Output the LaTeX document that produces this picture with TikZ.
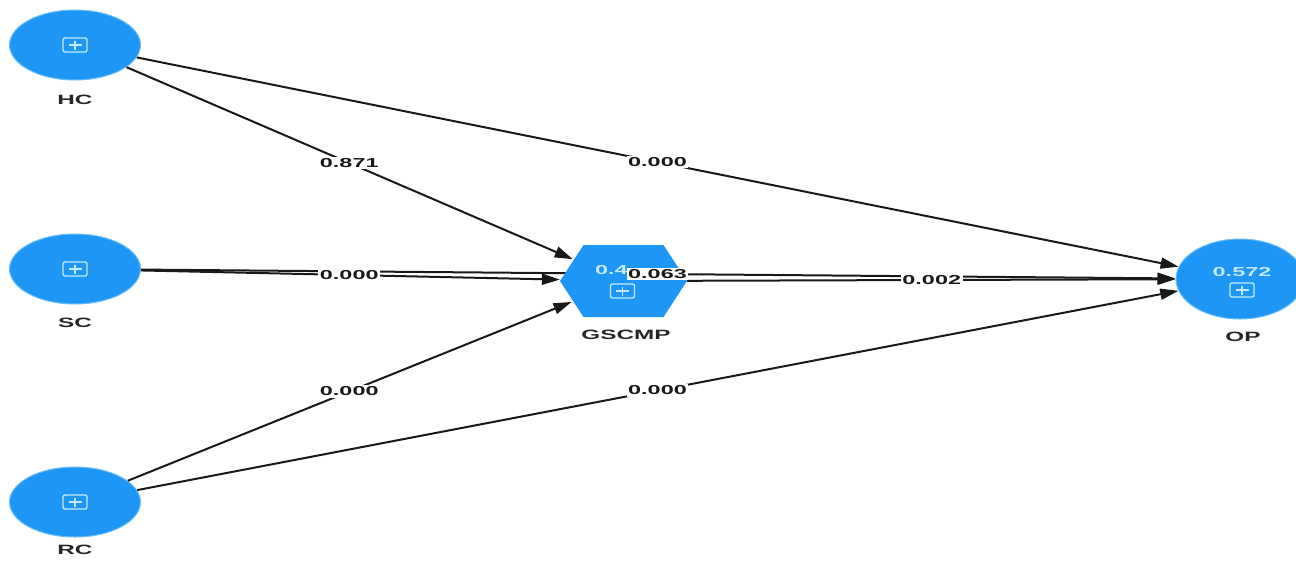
\documentclass[tikz,border=0pt]{standalone}
\usepackage{fontspec}
\setmainfont{Liberation Sans}
\newfontfamily\widefont[FakeStretch=1.8]{Liberation Sans}
\usetikzlibrary{shapes.geometric,arrows.meta,calc}
\pgfdeclarelayer{background}
\pgfsetlayers{background,main}
\definecolor{nodeblue}{RGB}{30,150,245}
\definecolor{rimblue}{RGB}{110,190,250}
\definecolor{iconc}{RGB}{195,232,255}
\begin{document}
\begin{tikzpicture}[x=1pt,y=-1pt,
  lv/.style={shape=ellipse, fill=nodeblue, draw=rimblue, line width=1pt, minimum width=131pt, minimum height=70pt, inner sep=0pt},
  nm/.style={font=\widefont\bfseries\fontsize{13.5}{15}\selectfont, text=black!85, inner sep=0pt},
  el/.style={font=\widefont\bfseries\fontsize{13}{15}\selectfont, text=black!90, fill=white, inner sep=1.5pt},
  val/.style={font=\widefont\bfseries\fontsize{13}{15}\selectfont, text=iconc, inner sep=0pt},
  conn/.style={line width=2pt, draw=black!90, -{Triangle[length=18pt,width=11pt]}},
  plusicon/.pic={
    \draw[iconc, line width=1.4pt, rounded corners=2pt] (-12,-7) rectangle (12,7);
    \draw[iconc, line width=1.4pt] (-6.5,0) -- (6.5,0) (0,-4.5) -- (0,4.5);
  }
]
\useasboundingbox (0,0) rectangle (1296,563);

% latent variables
\node[lv] (HC) at (75,45) {};
\node[lv] (SC) at (75,269) {};
\node[lv] (RC) at (75,502) {};
\node[lv, minimum width=128pt, minimum height=80pt] (OP) at (1240,279) {};
\node[shape=ellipse, minimum width=127pt, minimum height=72pt, inner sep=0pt] (GS) at (623.5,281) {};
\fill[nodeblue] ($(GS.center)+(-63.5,0)$) -- ($(GS.center)+(-40,-36)$) -- ($(GS.center)+(40,-36)$)
  -- ($(GS.center)+(63.5,0)$) -- ($(GS.center)+(40,36)$) -- ($(GS.center)+(-40,36)$) -- cycle;

% icons and values
\pic at (HC) {plusicon};
\pic at (SC) {plusicon};
\pic at (RC) {plusicon};
\pic at ($(GS.center)+(-1,10)$) {plusicon};
\pic at ($(OP.center)+(2,11)$) {plusicon};
\node[val, anchor=west] (GSv) at (595,270) {0.4};
\node[val] (OPv) at (1242,272) {0.572};

% names
\node[nm] (HCl) at (75,100) {HC};
\node[nm] (SCl) at (75,323) {SC};
\node[nm] (RCl) at (75,550) {RC};
\node[nm] (GSl) at (626,335) {GSCMP};
\node[nm] (OPl) at (1243,337) {OP};

% connectors
\begin{pgfonlayer}{background}
\draw[conn] (SC) -- (OP);
\end{pgfonlayer}
\draw[conn] (HC) -- (GS);
\draw[conn] (HC) -- (OP);
\draw[conn] (SC) -- (GS);
\draw[conn] (RC) -- (GS);
\draw[conn] (RC) -- (OP);
\draw[conn] (GS) -- (OP);

% connector labels
\path (HC.center) -- (GS.center) node[el, midway] {0.871};
\path (HC.center) -- (OP.center) node[el, midway] {0.000};
\path (SC.center) -- (GS.center) node[el, midway] {0.000};
\path (SC.center) -- (OP.center) node[el, midway] {0.063};
\path (RC.center) -- (GS.center) node[el, midway] {0.000};
\path (RC.center) -- (OP.center) node[el, midway] {0.000};
\path (GS.center) -- (OP.center) node[el, midway] {0.002};
\end{tikzpicture}
\end{document}
